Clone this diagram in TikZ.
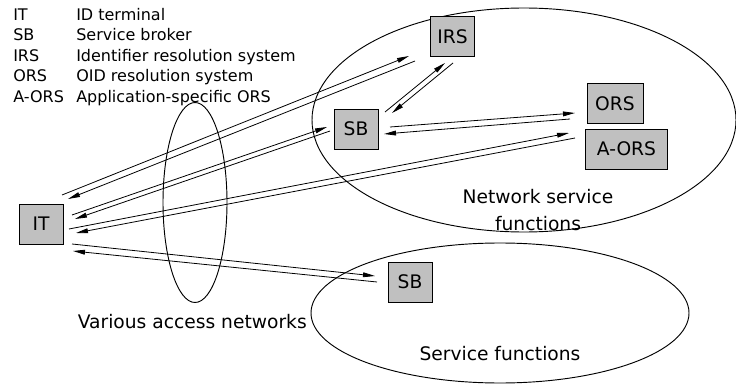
\documentclass[tikz,border=0pt]{standalone}
\usepackage{fontspec}
\setmainfont{DejaVu Sans}
\usetikzlibrary{arrows.meta}

\definecolor{boxgray}{RGB}{192,192,192}
\newcommand{\boxfont}{\fontsize{14}{17}\selectfont}
\newcommand{\keyfont}{\fontsize{12}{14}\selectfont}

\tikzset{
  box/.style={draw, line width=0.7pt, fill=boxgray, minimum width=33pt, minimum height=30pt, inner sep=0pt, font=\boxfont},
  key/.style={anchor=base west, inner sep=0pt, font=\keyfont},
  lbl/.style={inner sep=0pt, font=\boxfont},
  msg/.style={-{Triangle[length=9pt,width=3.6pt]}, line width=0.6pt},
  area/.style={line width=0.7pt},
}

\begin{document}
\begin{tikzpicture}[x=0.75pt,y=0.75pt,yscale=-1,xscale=1]
\useasboundingbox (0,0) rectangle (736,385);

% Ellipses
\draw[area] (524,120) ellipse [x radius=212, y radius=112];
\draw[area] (500,313) ellipse [x radius=189, y radius=70];
\draw[area] (195,202.5) ellipse [x radius=32, y radius=100];

% Boxes
\node[box] (IT) at (41,224) {IT};
\node[box] (SBa) at (356,129) {SB};
\node[box] (IRS) at (452.5,36.5) {IRS};
\node[box, minimum width=42pt] (ORS) at (615,103.5) {ORS};
\node[box, minimum width=62pt] (AORS) at (626.5,149) {A-ORS};
\node[box] (SBb) at (410,282) {SB};

% Legend
\node[key] (k1) at (13,20.3) {IT};
\node[key] (k2) at (13,40.8) {SB};
\node[key] (k3) at (13,61.3) {IRS};
\node[key] (k4) at (13,81.8) {ORS};
\node[key] (k5) at (13,102.3) {A-ORS};
\node[key] (d1) at (76,20.3) {ID terminal};
\node[key] (d2) at (76,40.8) {Service broker};
\node[key] (d3) at (76,61.3) {Identifier resolution system};
\node[key] (d4) at (76,81.8) {OID resolution system};
\node[key] (d5) at (76,102.3) {Application-specific ORS};

% Labels
\node[lbl, align=center] (nsf) at (538,210) {Network service\\[3pt]functions};
\node[lbl, anchor=base east] (van) at (307,328) {Various access networks};
\node[lbl, anchor=base] (sf) at (500,360) {Service functions};

% End points of the message lines
\coordinate (it-irs1) at (62,195);   \coordinate (irs-it1) at (409,56);
\coordinate (irs-it2) at (415,61);   \coordinate (it-irs2) at (68,199);
\coordinate (it-sb1) at (72,215);    \coordinate (sb-it1) at (327,127);
\coordinate (sb-it2) at (330,131);   \coordinate (it-sb2) at (75,219);
\coordinate (it-aors1) at (69,229);  \coordinate (aors-it1) at (569,133);
\coordinate (aors-it2) at (575,138); \coordinate (it-aors2) at (76,233);
\coordinate (it-sbb1) at (72,244);   \coordinate (sbb-it1) at (375,276);
\coordinate (sbb-it2) at (377,282);  \coordinate (it-sbb2) at (73,251);
\coordinate (sb-irs1) at (385,112);  \coordinate (irs-sb1) at (445,63);
\coordinate (irs-sb2) at (453,63);   \coordinate (sb-irs2) at (392,113);
\coordinate (sb-ors1) at (390,127);  \coordinate (ors-sb1) at (575,113);
\coordinate (ors-sb2) at (570,119);  \coordinate (sb-ors2) at (384,134);

% Message lines
\draw[msg] (it-irs1) -- (irs-it1);
\draw[msg] (irs-it2) -- (it-irs2);
\draw[msg] (it-sb1) -- (sb-it1);
\draw[msg] (sb-it2) -- (it-sb2);
\draw[msg] (it-aors1) -- (aors-it1);
\draw[msg] (aors-it2) -- (it-aors2);
\draw[msg] (it-sbb1) -- (sbb-it1);
\draw[msg] (sbb-it2) -- (it-sbb2);
\draw[msg] (sb-irs1) -- (irs-sb1);
\draw[msg] (irs-sb2) -- (sb-irs2);
\draw[msg] (sb-ors1) -- (ors-sb1);
\draw[msg] (ors-sb2) -- (sb-ors2);

\end{tikzpicture}
\end{document}
